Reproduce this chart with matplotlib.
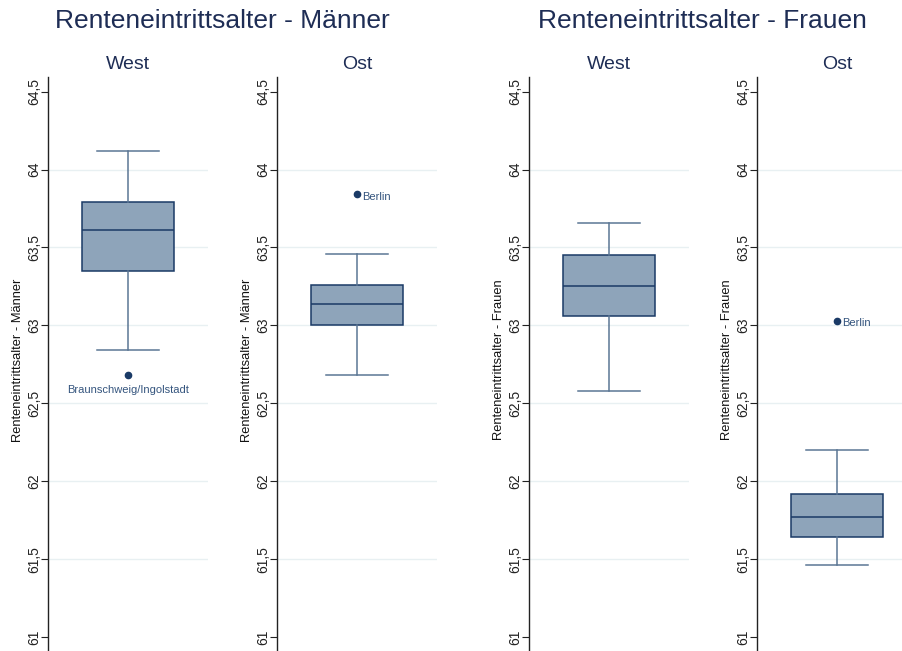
import matplotlib
matplotlib.use("Agg")
import matplotlib.pyplot as plt

plt.rcParams["font.family"] = ["Liberation Sans", "DejaVu Sans"]

# box statistics per panel: (whislo, q1, med, q3, whishi)
PANELS = ["Männer West", "Männer Ost", "Frauen West", "Frauen Ost"]
SUBTITLES = ["West", "Ost", "West", "Ost"]
YLABELS = ["Renteneintrittsalter - Männer", "Renteneintrittsalter - Männer",
           "Renteneintrittsalter - Frauen", "Renteneintrittsalter - Frauen"]
WHISLO = [62.84, 62.68, 62.58, 61.46]
Q1 = [63.35, 63.00, 63.06, 61.64]
MED = [63.61, 63.14, 63.25, 61.77]
Q3 = [63.79, 63.26, 63.45, 61.92]
WHISHI = [64.12, 63.46, 63.66, 62.20]
OUTLIER_VAL = [62.68, 63.84, None, 63.03]
OUTLIER_LAB = ["Braunschweig/Ingolstadt", "Berlin", None, "Berlin"]
TICKS = [61, 61.5, 62, 62.5, 63, 63.5, 64, 64.5]
TICKLABELS = ["61", "61,5", "62", "62,5", "63", "63,5", "64", "64,5"]
MAIN_TITLES = ["Renteneintrittsalter - Männer", "Renteneintrittsalter - Frauen"]

NAVY = "#1a3a66"
FILL = "#8ea4ba"
WHISK = "#5b7694"
TITLE_C = "#1e2d55"

W, H = 902, 651
fig = plt.figure(figsize=(W / 100, H / 100), dpi=100)

lefts = [48, 277, 529, 757]
aw = 160
top = 77
for i in range(4):
    ax = fig.add_axes([lefts[i] / W, 0, aw / W, (H - top) / H])
    stats = [dict(whislo=WHISLO[i], q1=Q1[i], med=MED[i], q3=Q3[i],
                  whishi=WHISHI[i], fliers=[])]
    ax.bxp(stats, positions=[0], widths=0.58, capwidths=0.39, patch_artist=True,
           showfliers=False,
           boxprops=dict(facecolor=FILL, edgecolor=NAVY, linewidth=1.1),
           medianprops=dict(color=NAVY, linewidth=1.1),
           whiskerprops=dict(color=WHISK, linewidth=1.1),
           capprops=dict(color=WHISK, linewidth=1.1))
    if OUTLIER_VAL[i] is not None:
        ax.plot([0], [OUTLIER_VAL[i]], "o", color=NAVY, ms=4.5)
        if OUTLIER_LAB[i] == "Berlin":
            ax.annotate(OUTLIER_LAB[i], (0, OUTLIER_VAL[i]), xytext=(4, -1.5),
                        textcoords="offset points", ha="left", va="center",
                        fontsize=8, color="#35557e")
        else:
            ax.annotate(OUTLIER_LAB[i], (0, OUTLIER_VAL[i]), xytext=(0, -7),
                        textcoords="offset points", ha="center", va="top",
                        fontsize=8, color="#35557e")
    ax.set_xlim(-0.5, 0.5)
    ax.set_ylim(60.91, 64.594)
    ax.set_yticks(TICKS)
    ax.set_yticklabels(TICKLABELS, rotation=90, va="center", fontsize=10)
    ax.tick_params(axis="y", length=5, width=0.8, pad=0, colors="#222222")
    ax.set_xticks([])
    for s in ["top", "right", "bottom"]:
        ax.spines[s].set_visible(False)
    ax.spines["left"].set_color("#222222")
    ax.spines["left"].set_linewidth(1.0)
    for t in TICKS[1:-1]:
        ax.axhline(t, color="#e8f0f2", lw=1.0, zorder=0)
    ax.set_ylabel(YLABELS[i], fontsize=9.3, color="#111111")
    ax.yaxis.set_label_coords(-0.15, 0.507)
    ax.set_title(SUBTITLES[i], fontsize=14, color=TITLE_C, pad=6)
    ax.patch.set_alpha(0)

fig.text(222 / W, 1 - 21 / H, MAIN_TITLES[0], ha="center", va="center",
         fontsize=19, color=TITLE_C)
fig.text(702 / W, 1 - 21 / H, MAIN_TITLES[1], ha="center", va="center",
         fontsize=19, color=TITLE_C)

fig.savefig("out.png", dpi=100)
